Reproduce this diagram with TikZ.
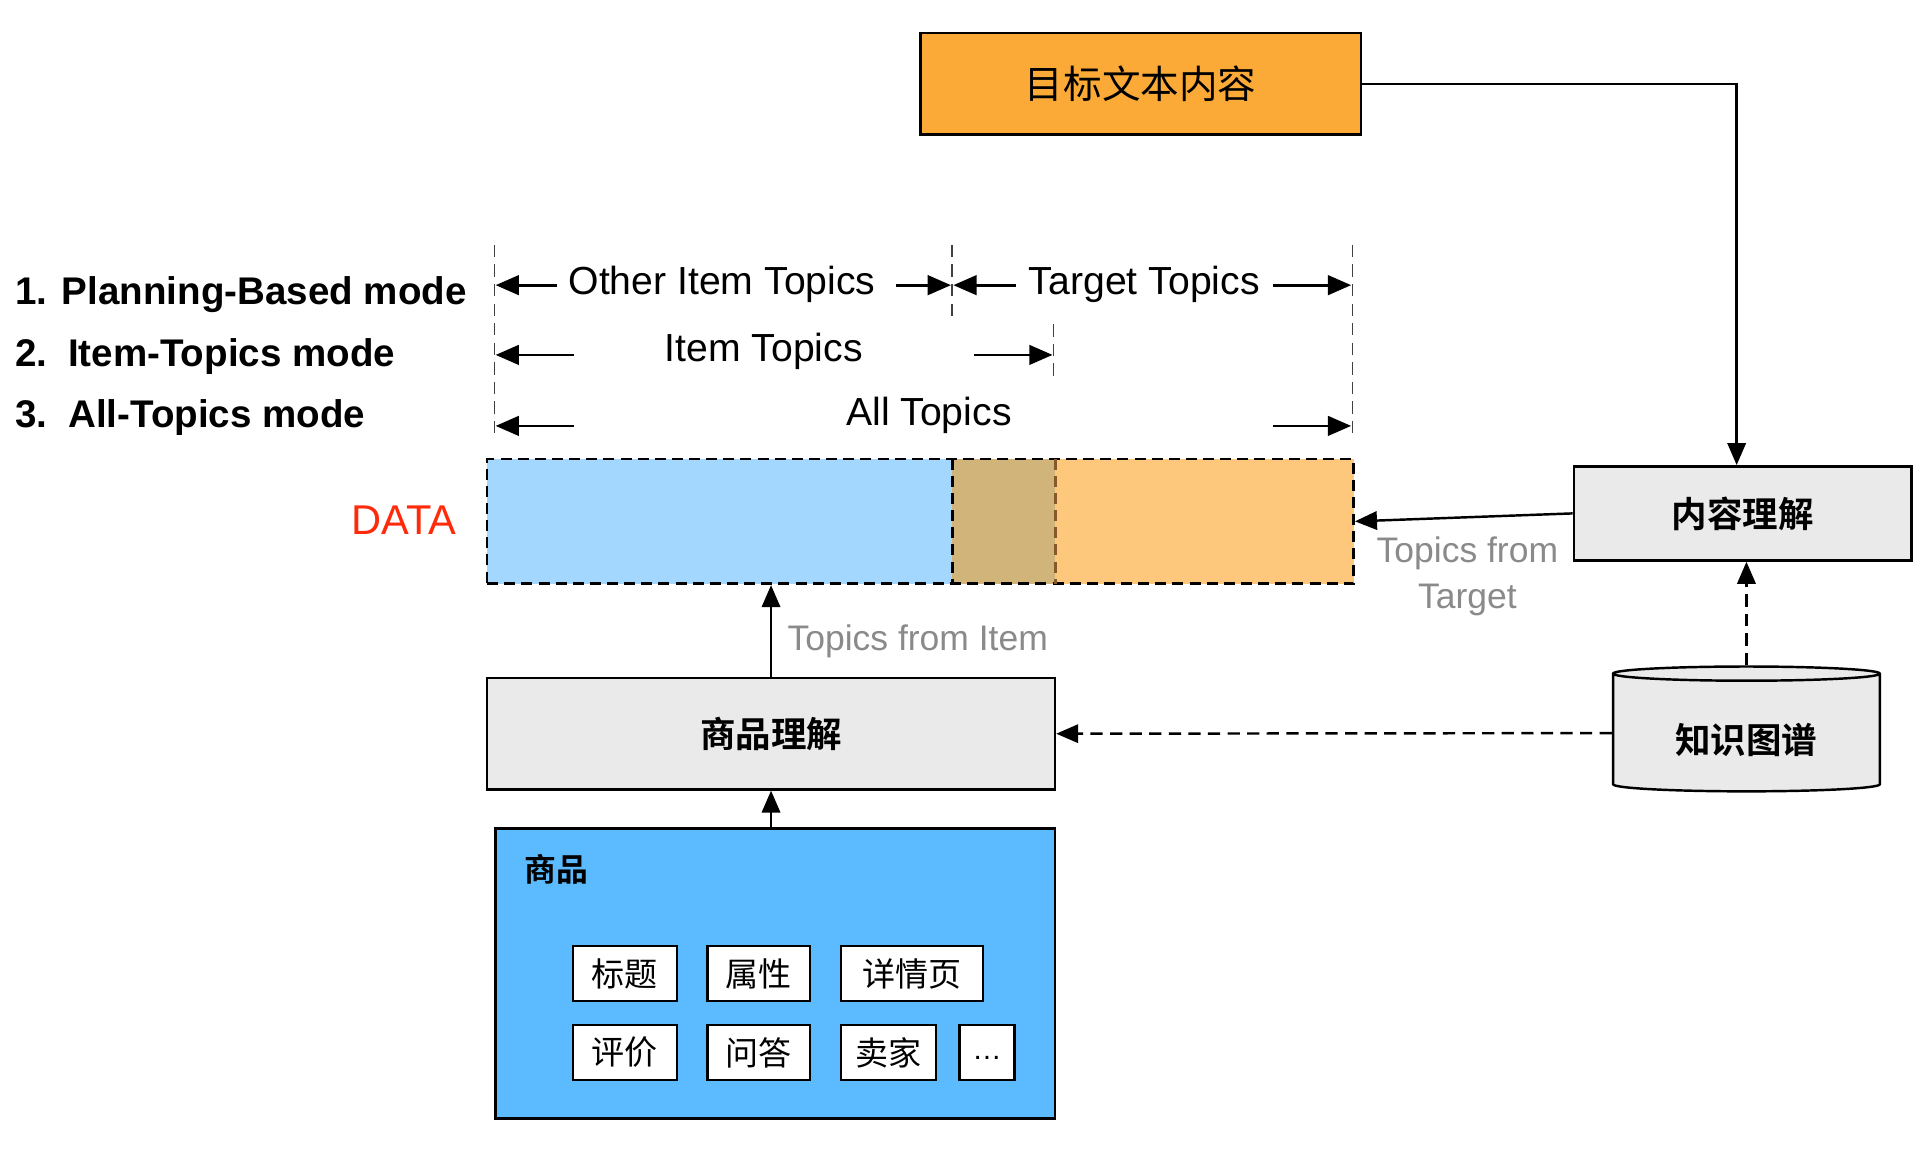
\documentclass[tikz,border=0pt]{standalone}
\usepackage{fontspec}
\setmainfont{Liberation Sans}
\newfontfamily\cjk{Noto Sans CJK SC}[BoldFont={Noto Sans CJK SC Bold}]
\usepackage{tikz}
\usetikzlibrary{arrows.meta, shapes.geometric}
\definecolor{targetorange}{HTML}{FBAA37}
\definecolor{datablue}{HTML}{A3D7FD}
\definecolor{databrown}{HTML}{D1B47A}
\definecolor{dataorange}{HTML}{FEC87C}
\definecolor{goodsblue}{HTML}{5CBAFE}
\definecolor{boxgrey}{HTML}{EAEAEA}
\definecolor{datared}{HTML}{FF2A0A}
\definecolor{labelgrey}{HTML}{8A8A8A}
\tikzset{
    box/.style={draw, line width=2pt, inner sep=0pt, fill=boxgrey,
        font=\cjk\bfseries\fontsize{29}{34}\selectfont},
    attr/.style={draw, line width=2pt, inner sep=0pt, fill=white, minimum height=45pt,
        font=\cjk\fontsize{27}{32}\selectfont},
    seg/.style={inner sep=0pt, minimum height=102pt},
    arr/.style={line width=2pt, -{Triangle[length=18pt,width=15pt]}},
    dimarr/.style={line width=2.2pt, -{Triangle[length=19pt,width=16pt]}},
    guide/.style={dashed, line width=1.1pt, black!75, dash pattern=on 10pt off 6pt},
    dashline/.style={dashed, line width=2.2pt, dash pattern=on 9pt off 5pt},
    mode/.style={anchor=west, font=\bfseries\fontsize{31.5}{36}\selectfont},
    dimtext/.style={font=\fontsize{32}{38}\selectfont},
    greytext/.style={text=labelgrey, font=\fontsize{29}{38}\selectfont}
}

\begin{document}
\begin{tikzpicture}[x=1pt, y=-1pt]
    \useasboundingbox (0,0) rectangle (1568,939);

    % modes
    \node[mode] (M1) at (9,241) {1. Planning-Based mode};
    \node[mode] (M2) at (9,291) {2. \,Item-Topics mode};
    \node[mode] (M3) at (9,341) {3. \,All-Topics mode};

    % the data bar
    \node[seg, fill=datablue, minimum width=380pt] (OTH) at (588,426) {};
    \node[seg, fill=databrown, minimum width=84pt] (OVL) at (820,426) {};
    \node[seg, fill=dataorange, minimum width=244pt] (TGT) at (984,426) {};
    \node[seg, draw, dashline, minimum width=708pt] (DATA) at (752,426) {};
    \draw[dashline] (OTH.north east) -- (OTH.south east);
    \draw[dashline, brown!70!black] (OVL.north east) -- (OVL.south east);
    \node[text=datared, font=\fontsize{34}{40}\selectfont] (DL) at (330,425) {DATA};

    % guides
    \coordinate (G1a) at (404,200); \coordinate (G1b) at (404,355);
    \coordinate (G2a) at (778,200); \coordinate (G2b) at (778,262);
    \coordinate (G3a) at (861,265); \coordinate (G3b) at (861,310);
    \coordinate (G4a) at (1105,200); \coordinate (G4b) at (1105,355);
    \draw[guide] (G1a) -- (G1b);
    \draw[guide] (G2a) -- (G2b);
    \draw[guide] (G3a) -- (G3b);
    \draw[guide] (G4a) -- (G4b);

    \node[dimtext] (OT) at (590,232) {Other Item Topics};
    \node[dimtext] (TT) at (935,232) {Target Topics};
    \node[dimtext] (IT) at (624,287) {Item Topics};
    \node[dimtext] (AT) at (759,339) {All Topics};

    \draw[dimarr] (455,233) -- (405,233);
    \draw[dimarr] (732,233) -- (777,233);
    \draw[dimarr] (830,233) -- (779,233);
    \draw[dimarr] (1040,233) -- (1104,233);
    \draw[dimarr] (469,290) -- (405,290);
    \draw[dimarr] (796,290) -- (860,290);
    \draw[dimarr] (469,348) -- (405,348);
    \draw[dimarr] (1040,348) -- (1104,348);

    % boxes
    \node[box, fill=targetorange, minimum width=360pt, minimum height=83pt,
        font=\cjk\fontsize{31.5}{36}\selectfont] (TARGET) at (932,68.5) {目标文本内容};
    \node[box, minimum width=276pt, minimum height=77pt] (CU) at (1424,419.5) {内容理解};
    \node[box, cylinder, shape border rotate=90, aspect=0.1, text height=34pt, text depth=0pt,
        minimum width=218pt, minimum height=102pt] (KG) at (1427,599) {知识图谱};
    \node[box, minimum width=464pt, minimum height=91pt] (GU) at (630,599.5) {商品理解};
    \node[box, fill=goodsblue, minimum width=457pt, minimum height=237pt] (GOODS) at (633.5,795.5) {};
    \node[anchor=west, font=\cjk\bfseries\fontsize{26}{30}\selectfont] (GL) at (425,710) {商品};

    \node[attr, minimum width=85pt] (A1) at (510.5,795.5) {标题};
    \node[attr, minimum width=84pt] (A2) at (620,795.5) {属性};
    \node[attr, minimum width=116pt] (A3) at (745,795.5) {详情页};
    \node[attr, minimum width=85pt] (B1) at (510.5,860) {评价};
    \node[attr, minimum width=84pt] (B2) at (620,860) {问答};
    \node[attr, minimum width=78pt] (B3) at (726,860) {卖家};
    \node[attr, minimum width=45pt, text height=18pt, text depth=6pt,
        font=\fontsize{24}{28}\selectfont] (B4) at (806.5,860) {\dots};

    % connectors
    \draw[arr] (TARGET.east) -| ([xshift=-5pt]CU.north);
    \draw[arr] (CU.west) -- (DATA.east);
    \draw[arr, dashed, dash pattern=on 10pt off 6pt] (KG.north) -- (KG.north |- CU.south);
    \draw[arr, dashed, dash pattern=on 10pt off 6pt] (KG.west) -- (GU.east);
    \draw[arr] (GU.north) -- (GU.north |- DATA.south);
    \draw[arr] (GU.south |- GOODS.north) -- (GU.south);

    \node[greytext, anchor=west] (LI) at (640,524) {Topics from Item};
    \node[greytext, align=center] (LT) at (1199,471) {Topics from\\Target};
\end{tikzpicture}
\end{document}
